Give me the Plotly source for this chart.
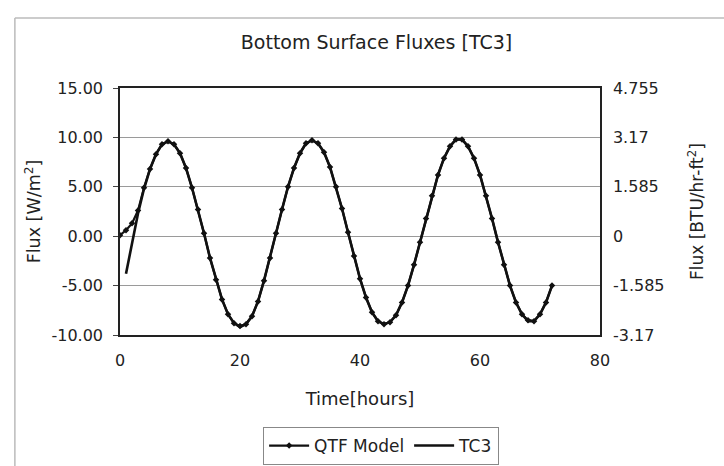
import plotly.graph_objects as go

# Time axis (hours)
qtf_time = list(range(0, 73))
qtf_flux = [0.1, 0.6, 1.3, 2.6, 4.9, 6.8, 8.3, 9.3, 9.6,                 # 0-8
            9.3, 8.4, 6.9, 4.9, 2.7, 0.3, -2.2, -4.4, -6.4, -7.9, -8.8, -9.1,   # 9-20
            -8.9, -8.1, -6.6, -4.5, -2.2, 0.3, 2.7, 5.0, 6.9, 8.4, 9.4, 9.7,   # 21-32
            9.4, 8.5, 7.0, 5.0, 2.8, 0.4, -2.0, -4.3, -6.2, -7.7, -8.6, -8.9,  # 33-44
            -8.7, -8.0, -6.7, -5.0, -2.9, -0.6, 1.8, 4.1, 6.2, 7.9, 9.1, 9.8,  # 45-56
            9.8, 9.1, 7.9, 6.2, 4.1, 1.8, -0.6, -2.9, -5.0, -6.7, -7.9, -8.5,  # 57-68
            -8.6, -7.9, -6.7, -5.0]                                          # 69-72

tc3_time = list(range(1, 73))
tc3_flux = [-3.8, -0.8, 2.3, 4.8, 6.8, 8.3, 9.3, 9.6,                   # 1-8
            9.3, 8.4, 6.9, 4.9, 2.7, 0.3, -2.2, -4.4, -6.4, -7.9, -8.8, -9.2,   # 9-20
            -8.9, -8.1, -6.6, -4.5, -2.2, 0.3, 2.7, 5.0, 6.9, 8.4, 9.4, 9.7,   # 21-32
            9.4, 8.5, 7.0, 5.0, 2.8, 0.4, -2.0, -4.3, -6.2, -7.7, -8.6, -8.9,  # 33-44
            -8.7, -8.0, -6.7, -5.0, -2.9, -0.6, 1.8, 4.1, 6.2, 7.9, 9.1, 9.8,  # 45-56
            9.8, 9.1, 7.9, 6.2, 4.1, 1.8, -0.6, -2.9, -5.0, -6.7, -7.9, -8.6,  # 57-68
            -8.6, -7.9, -6.7, -5.0]                                          # 69-72

left_ticks = [-10, -5, 0, 5, 10, 15]
left_ticktext = ["-10.00", "-5.00", "0.00", "5.00", "10.00", "15.00"]
right_ticks = [-3.17, -1.585, 0, 1.585, 3.17, 4.755]
right_ticktext = ["-3.17", "-1.585", "0", "1.585", "3.17", "4.755"]
x_ticks = [0, 20, 40, 60, 80]

FONT = "DejaVu Sans, Liberation Sans, Arial, sans-serif"

fig = go.Figure()
fig.add_trace(go.Scatter(
    x=qtf_time, y=qtf_flux, name="QTF Model", mode="lines+markers",
    line=dict(color="#111111", width=2.2),
    marker=dict(symbol="diamond", size=5, color="#111111"),
))
fig.add_trace(go.Scatter(
    x=tc3_time, y=tc3_flux, name="TC3", mode="lines",
    line=dict(color="#111111", width=2.6),
))
# invisible trace to activate the right axis
fig.add_trace(go.Scatter(
    x=[0], y=[0], yaxis="y2", mode="markers", showlegend=False,
    marker=dict(opacity=0), hoverinfo="skip",
))

fig.update_layout(
    width=724, height=466,
    paper_bgcolor="white", plot_bgcolor="white",
    margin=dict(l=120, r=124, t=88, b=131, autoexpand=False),
    font=dict(family=FONT, size=16, color="#222222"),
    title=dict(text="Bottom Surface Fluxes [TC3]", x=0.52, xanchor="center",
               y=0.91, yanchor="middle", font=dict(size=19, family=FONT)),
    xaxis=dict(range=[0, 80], tickvals=x_ticks, showgrid=False,
               showline=True, linecolor="#222222", linewidth=1.5, mirror=True,
               ticks="", zeroline=False, tickfont=dict(size=16),
               ticklabelstandoff=10, automargin=False,
               title=dict(text="Time[hours]", standoff=23, font=dict(size=18))),
    yaxis=dict(range=[-10, 15], tickvals=left_ticks, ticktext=left_ticktext,
               showgrid=True, gridcolor="#9a9a9a", gridwidth=1,
               showline=True, linecolor="#222222", linewidth=1.5,
               ticks="outside", ticklen=5, tickcolor="#444444",
               zeroline=False, tickfont=dict(size=16), ticklabelstandoff=7,
               automargin=False,
               title=dict(text="Flux [W/m<sup>2</sup>]", standoff=6, font=dict(size=17.5))),
    yaxis2=dict(range=[-3.17, 4.755], tickvals=right_ticks, ticktext=right_ticktext,
                overlaying="y", side="right", showgrid=False,
                showline=True, linecolor="#222222", linewidth=1.5,
                ticks="", zeroline=False, tickfont=dict(size=16), ticklabelstandoff=8,
                automargin=False,
                title=dict(text="Flux [BTU/hr-ft<sup>2</sup>]", standoff=28, font=dict(size=17))),
    legend=dict(orientation="h", x=0.544, xanchor="center",
                yref="container", y=0.0837, yanchor="top",
                bordercolor="#888888", borderwidth=1, font=dict(size=17),
                itemwidth=40, tracegroupgap=0),
    shapes=[
        dict(type="line", xref="paper", yref="paper", x0=-0.219, x1=1.3,
             y0=1.283, y1=1.283, line=dict(color="#bbbbbb", width=1.5)),
        dict(type="line", xref="paper", yref="paper", x0=-0.219, x1=-0.219,
             y0=1.283, y1=-0.6, line=dict(color="#bbbbbb", width=1.5)),
    ],
)

fig.write_html("out.html")
